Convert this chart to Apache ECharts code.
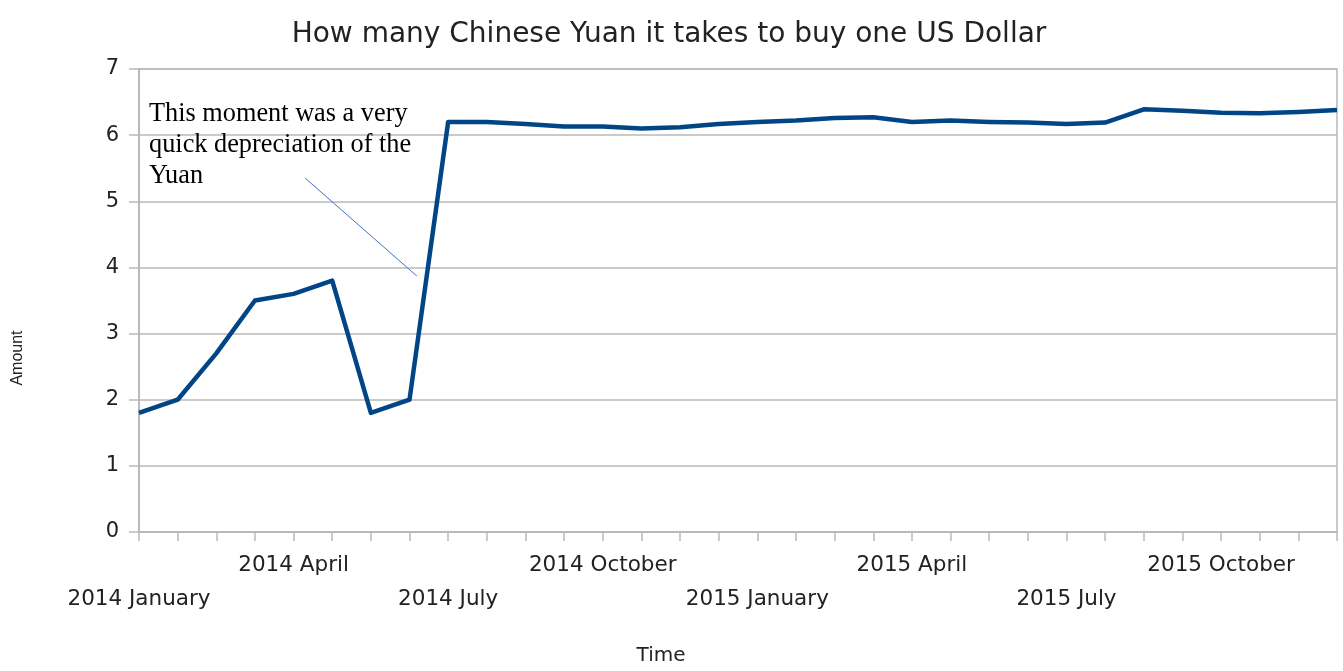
<!DOCTYPE html>
<html>
<head>
<meta charset="utf-8">
<title>Chinese Yuan per US Dollar</title>
<script src="https://cdn.jsdelivr.net/npm/echarts@6/dist/echarts.min.js"></script>
<style>
  html, body { margin: 0; padding: 0; background: #ffffff; }
  #chart { width: 1343px; height: 671px; }
</style>
</head>
<body>
<div id="chart"></div>
<script>
// Time axis categories; only every fourth one carries a printed label.
const categories = [
  '2014 January', '', '', '', '2014 April', '', '', '', '2014 July', '', '', '',
  '2014 October', '', '', '', '2015 January', '', '', '', '2015 April', '', '', '',
  '2015 July', '', '', '', '2015 October', '', '', ''
];

// Yuan needed for one US dollar at each point in time.
const yuanPerDollar = [
  1.8, 2.0, 2.7, 3.5, 3.6, 3.8, 1.8, 2.0,
  6.2, 6.2, 6.17, 6.13, 6.13, 6.1, 6.12, 6.17,
  6.2, 6.22, 6.26, 6.27, 6.2, 6.22, 6.2, 6.19,
  6.17, 6.19, 6.39, 6.37, 6.34, 6.33, 6.35, 6.38
];

// Value axis tick range.
const yTicks = { min: 0, max: 7, step: 1 };

// Annotation text and where its pointer runs, in (category index, amount) space.
const noteLines = ['This moment was a very', 'quick depreciation of the', 'Yuan'];
const noteAnchor = [0.26, 6.55];
const pointerFrom = [4.30, 5.35];
const pointerTo = [7.19, 3.87];

const axisGray = '#b9b9b9';
const textColor = '#222222';
const sansFont = 'DejaVu Sans';

const chart = echarts.init(document.getElementById('chart'), null, { renderer: 'canvas' });

chart.setOption({
  animation: false,
  backgroundColor: '#ffffff',
  title: {
    text: 'How many Chinese Yuan it takes to buy one US Dollar',
    left: 664,
    top: 16,
    textAlign: 'center',
    textStyle: { fontFamily: sansFont, fontSize: 28, fontWeight: 'normal', color: textColor }
  },
  grid: {
    left: 139, right: 6, top: 69, bottom: 139,
    outerBoundsMode: 'none',
    containLabel: false,
    show: true, borderColor: axisGray, borderWidth: 1.5, backgroundColor: 'transparent'
  },
  xAxis: {
    type: 'category',
    data: categories,
    boundaryGap: false,
    axisLine: { lineStyle: { color: axisGray, width: 2 } },
    axisTick: { show: true, interval: 0, length: 9, lineStyle: { color: axisGray, width: 1.5 } },
    axisLabel: {
      interval: 3,
      margin: 16,
      fontFamily: sansFont,
      fontSize: 21.5,
      color: textColor,
      lineHeight: 34,
      formatter: function (value, index) {
        // Labels alternate between an upper and a lower row.
        return (index / 4) % 2 === 0 ? '\n' + value : value;
      }
    },
    splitLine: { show: false }
  },
  yAxis: {
    type: 'value',
    min: yTicks.min,
    max: yTicks.max,
    interval: yTicks.step,
    axisLine: { show: true, lineStyle: { color: axisGray, width: 2 } },
    axisTick: { show: true, length: 10, lineStyle: { color: axisGray, width: 1.5 } },
    axisLabel: { margin: 20, fontFamily: sansFont, fontSize: 21, color: textColor },
    splitLine: { show: true, lineStyle: { color: axisGray, width: 1.5 } }
  },
  series: [{
    type: 'line',
    data: yuanPerDollar,
    showSymbol: false,
    symbol: 'none',
    lineStyle: { color: '#004586', width: 4.5, join: 'round' },
    itemStyle: { color: '#004586' },
    z: 3
  }]
});

// Pixel position of a point whose category index may fall between two categories.
function toPixel(pt) {
  const i0 = Math.floor(pt[0]);
  const i1 = Math.min(i0 + 1, categories.length - 1);
  const a = chart.convertToPixel({ gridIndex: 0 }, [i0, pt[1]]);
  const b = chart.convertToPixel({ gridIndex: 0 }, [i1, pt[1]]);
  const t = pt[0] - i0;
  return [a[0] + (b[0] - a[0]) * t, a[1]];
}

const notePos = toPixel(noteAnchor);
const p1 = toPixel(pointerFrom);
const p2 = toPixel(pointerTo);

chart.setOption({
  graphic: [
    {
      // Axis title for the value axis, set low beside the axis.
      type: 'text',
      x: 18,
      y: 358,
      rotation: Math.PI / 2,
      style: {
        text: 'Amount',
        font: '16px "Liberation Sans"',
        fill: textColor,
        textAlign: 'center',
        textVerticalAlign: 'middle'
      }
    },
    {
      // Axis title for the time axis.
      type: 'text',
      x: 661,
      y: 656,
      style: {
        text: 'Time',
        font: '20px "DejaVu Sans"',
        fill: textColor,
        textAlign: 'center',
        textVerticalAlign: 'middle'
      }
    },
    {
      type: 'text',
      x: notePos[0],
      y: notePos[1],
      z: 10,
      style: {
        text: noteLines.join('\n'),
        font: '26.3px "Liberation Serif"',
        lineHeight: 31,
        fill: '#000000',
        textAlign: 'left',
        textVerticalAlign: 'top'
      }
    },
    {
      type: 'line',
      z: 10,
      shape: { x1: p1[0], y1: p1[1], x2: p2[0], y2: p2[1] },
      style: { stroke: '#4472c4', lineWidth: 1 }
    }
  ]
});
</script>
</body>
</html>
